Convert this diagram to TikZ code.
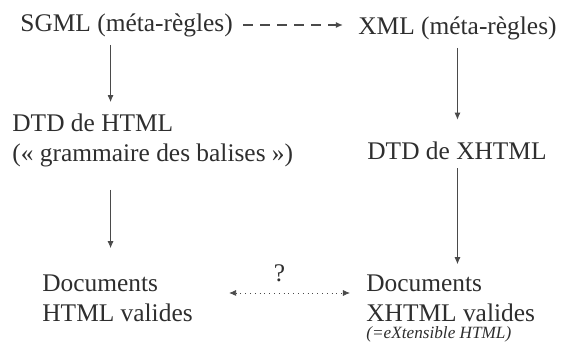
\documentclass[tikz,border=0pt]{standalone}
\usepackage{fontspec}
\setmainfont{Liberation Serif}
\usepackage{xcolor}
\usepackage{tikz}
\usetikzlibrary{arrows.meta}

\definecolor{txtgray}{HTML}{2E2E2E}
\definecolor{linegray}{HTML}{4A4A4A}

\begin{document}
\begin{tikzpicture}[x=0.5pt, y=-0.5pt]
      \tikzstyle{label} = [anchor=west, inner sep=0pt, align=left, text=txtgray, font=\fontsize{12.7}{15}\selectfont]
      \tikzstyle{edge} = [-{Latex[length=3.5pt, width=3pt]}, thin, draw=linegray]
      \useasboundingbox (0,0) rectangle (570,347);
      \node[label] (sgml) at (20,25) {SGML (méta-règles)};
      \node[label] (xml) at (358,28) {XML (méta-règles)};
      \node[label] (dtdhtml) at (12,140) {DTD de HTML\\(« grammaire des balises »)};
      \node[label] (dtdxhtml) at (367,151) {DTD de XHTML};
      \node[label] (dochtml) at (42,298) {Documents\\HTML valides};
      \node[label] (docxhtml) at (366,298) {Documents\\XHTML valides};
      \node[label, font=\fontsize{8.6}{10}\selectfont\itshape] (ext) at (366,334) {(=eXtensible HTML)};
      \draw[edge, line width=1.2pt, dash pattern=on 5pt off 3.5pt, shorten <=5pt, shorten >=7.5pt] (sgml.east) -- (sgml.east -| xml.west); % derivation
      \draw[edge, shorten <=4pt, shorten >=5.5pt] ([xshift=-8pt]sgml.south) -- ([xshift=-8pt]sgml.south |- dtdhtml.north);
      \draw[edge, shorten <=4pt, shorten >=11pt] (xml.south) -- (xml.south |- dtdxhtml.north);
      \draw[edge, shorten <=11.5pt, shorten >=13pt] ([xshift=-8pt]sgml.south |- dtdhtml.south) -- ([xshift=-8pt]sgml.south |- dochtml.north);
      \draw[edge, shorten <=4pt, shorten >=5pt] (xml.south |- dtdxhtml.south) -- (xml.south |- docxhtml.north);
      \draw[edge, {Latex[length=3.5pt, width=3pt]}-{Latex[length=3.5pt, width=3pt]}, dotted, shorten <=18pt, shorten >=8pt]
            ([yshift=2.5pt]dochtml.east) -- ([yshift=2.5pt]docxhtml.west)
            node[midway, above=2pt, text=txtgray, font=\fontsize{12.7}{15}\selectfont] (qmark) {?}; % comparison
\end{tikzpicture}
\end{document}
